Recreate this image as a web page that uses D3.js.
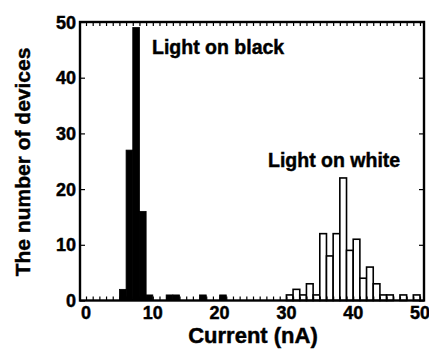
<!DOCTYPE html>
<html>
<head>
<meta charset="utf-8">
<script src="https://cdn.jsdelivr.net/npm/d3@7"></script>
<style>
  body { margin: 0; background: #fff; }
  text { font-family: "Liberation Sans", Arial, sans-serif; font-weight: bold; fill: #000; stroke: #000; stroke-width: 0.45px; }
</style>
</head>
<body>
<svg></svg>
<script>
// bin start (nA), 1 nA wide bins
const blackBins = [5, 6, 7, 8, 9, 12, 13, 17, 20]
const blackCounts = [2, 27, 49, 16, 1, 1, 1, 1, 1]
const whiteBins = [30, 31, 32, 33, 34, 35, 36, 37, 38, 39, 40, 41, 42, 43, 44, 45, 47, 49]
const whiteCounts = [1, 2, 1, 3, 1, 12, 8, 12, 22, 9, 11, 4, 6, 3, 1, 1, 1, 1]
const xTickLabels = [0, 10, 20, 30, 40, 50]
const yTickLabels = [0, 10, 20, 30, 40, 50]

const width = 429, height = 350
const margin = { top: 22, right: 5, bottom: 49.5, left: 80 }

const svg = d3.select('svg')
    .attr('width', width)
    .attr('height', height)

const x = d3.scaleLinear()
    .domain([-0.9, 50.6])
    .range([margin.left, width - margin.right])

const y = d3.scaleLinear()
    .domain([0, 50])
    .range([height - margin.bottom, margin.top])

const x0 = margin.left, x1 = width - margin.right
const y0 = height - margin.bottom, y1 = margin.top

// bars
svg.append('g')
    .selectAll('rect')
    .data(blackBins.map((b, i) => [b, blackCounts[i]]))
    .join('rect')
    .attr('x', d => x(d[0]))
    .attr('y', d => y(d[1]))
    .attr('width', d => x(d[0] + 1) - x(d[0]))
    .attr('height', d => y(0) - y(d[1]))
    .attr('fill', '#000')
    .attr('stroke', '#000')
    .attr('stroke-width', 0.8)

svg.append('g')
    .selectAll('rect')
    .data(whiteBins.map((b, i) => [b, whiteCounts[i]]))
    .join('rect')
    .attr('x', d => x(d[0]))
    .attr('y', d => y(d[1]))
    .attr('width', d => x(d[0] + 1) - x(d[0]))
    .attr('height', d => y(0) - y(d[1]))
    .attr('fill', '#fff')
    .attr('stroke', '#000')
    .attr('stroke-width', 1.6)

// ticks, pointing inward on all four sides
const minor = d3.range(0, 51)
svg.append('g')
    .attr('transform', `translate(0,${y0})`)
    .call(d3.axisBottom(x).tickValues(minor).tickSize(-4).tickFormat(''))
svg.append('g')
    .attr('transform', `translate(0,${y1})`)
    .call(d3.axisTop(x).tickValues(minor).tickSize(-4).tickFormat(''))
svg.append('g')
    .attr('transform', `translate(${x0},0)`)
    .call(d3.axisLeft(y).tickValues(yTickLabels).tickSize(-5).tickFormat(''))
svg.append('g')
    .attr('transform', `translate(${x1},0)`)
    .call(d3.axisRight(y).tickValues(yTickLabels).tickSize(-5).tickFormat(''))

svg.selectAll('.domain').remove()
svg.selectAll('.tick line').attr('stroke', '#000').attr('stroke-width', 1.2)

// frame
svg.append('rect')
    .attr('x', x0)
    .attr('y', y1)
    .attr('width', x1 - x0)
    .attr('height', y0 - y1)
    .attr('fill', 'none')
    .attr('stroke', '#000')
    .attr('stroke-width', 2.4)

// tick labels
svg.append('g')
    .selectAll('text')
    .data(xTickLabels)
    .join('text')
    .attr('x', d => x(d))
    .attr('y', y0 + 18)
    .attr('text-anchor', 'middle')
    .style('font-size', '18px')
    .text(d => d)

svg.append('g')
    .selectAll('text')
    .data(yTickLabels)
    .join('text')
    .attr('x', x0 - 4)
    .attr('y', d => y(d) + 6.5)
    .attr('text-anchor', 'end')
    .style('font-size', '18px')
    .text(d => d)

// axis titles
svg.append('text')
    .attr('x', 253)
    .attr('y', 343)
    .attr('text-anchor', 'middle')
    .style('font-size', '22px')
    .text('Current (nA)')

svg.append('text')
    .attr('transform', 'translate(30,162) rotate(-90)')
    .attr('text-anchor', 'middle')
    .style('font-size', '21px')
    .text('The number of devices')

// annotations
svg.append('text')
    .attr('x', 152)
    .attr('y', 54)
    .style('font-size', '19.5px')
    .text('Light on black')

svg.append('text')
    .attr('x', 268)
    .attr('y', 167)
    .style('font-size', '19.5px')
    .text('Light on white')
</script>
</body>
</html>
